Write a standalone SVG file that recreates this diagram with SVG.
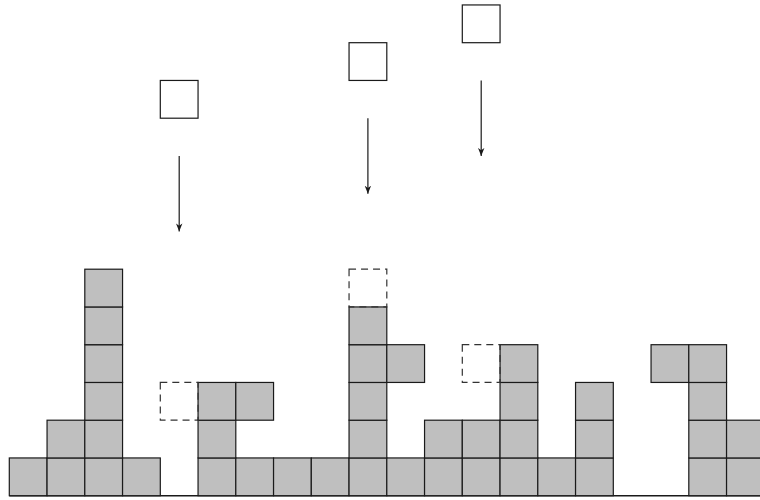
<svg xmlns="http://www.w3.org/2000/svg" xmlns:xlink="http://www.w3.org/1999/xlink" width="760" height="500" viewBox="0 0 760 500">
  <style>
    .cell { fill: #bfbfbf; stroke: #1a1a1a; stroke-width: 1.2; }
    .ghost { fill: none; stroke: #333333; stroke-width: 1.2; stroke-dasharray: 7 5; }
    .fall { fill: #ffffff; stroke: #1a1a1a; stroke-width: 1.2; }
    .arrow { stroke: #1a1a1a; stroke-width: 1.2; fill: none; marker-end: url(#head); }
    .ground { stroke: #1a1a1a; stroke-width: 1.4; }
  </style>
  <defs>
    <rect id="c" class="cell" width="37.75" height="37.75"/>
    <marker id="head" viewBox="0 0 10 10" refX="10" refY="5" markerWidth="8" markerHeight="8" markerUnits="userSpaceOnUse" orient="auto">
      <path d="M0,1 L10,5 L0,9 L3,5 z" fill="#1a1a1a"/>
    </marker>
  </defs>
  <rect width="760" height="500" fill="#ffffff"/>
  <line class="ground" x1="9.3" y1="495.7" x2="760" y2="495.7"/>
  <g id="stack">
    <!-- row 0 -->
    <use href="#c" x="9.3" y="457.95"/>
    <use href="#c" x="47.05" y="457.95"/>
    <use href="#c" x="84.8" y="457.95"/>
    <use href="#c" x="122.55" y="457.95"/>
    <use href="#c" x="198.05" y="457.95"/>
    <use href="#c" x="235.8" y="457.95"/>
    <use href="#c" x="273.55" y="457.95"/>
    <use href="#c" x="311.3" y="457.95"/>
    <use href="#c" x="349.05" y="457.95"/>
    <use href="#c" x="386.8" y="457.95"/>
    <use href="#c" x="424.55" y="457.95"/>
    <use href="#c" x="462.3" y="457.95"/>
    <use href="#c" x="500.05" y="457.95"/>
    <use href="#c" x="537.8" y="457.95"/>
    <use href="#c" x="575.55" y="457.95"/>
    <use href="#c" x="688.8" y="457.95"/>
    <use href="#c" x="726.55" y="457.95"/>
    <!-- row 1 -->
    <use href="#c" x="47.05" y="420.2"/>
    <use href="#c" x="84.8" y="420.2"/>
    <use href="#c" x="198.05" y="420.2"/>
    <use href="#c" x="349.05" y="420.2"/>
    <use href="#c" x="424.55" y="420.2"/>
    <use href="#c" x="462.3" y="420.2"/>
    <use href="#c" x="500.05" y="420.2"/>
    <use href="#c" x="575.55" y="420.2"/>
    <use href="#c" x="688.8" y="420.2"/>
    <use href="#c" x="726.55" y="420.2"/>
    <!-- row 2 -->
    <use href="#c" x="84.8" y="382.45"/>
    <use href="#c" x="198.05" y="382.45"/>
    <use href="#c" x="235.8" y="382.45"/>
    <use href="#c" x="349.05" y="382.45"/>
    <use href="#c" x="500.05" y="382.45"/>
    <use href="#c" x="575.55" y="382.45"/>
    <use href="#c" x="688.8" y="382.45"/>
    <!-- row 3 -->
    <use href="#c" x="84.8" y="344.7"/>
    <use href="#c" x="349.05" y="344.7"/>
    <use href="#c" x="386.8" y="344.7"/>
    <use href="#c" x="500.05" y="344.7"/>
    <use href="#c" x="651.05" y="344.7"/>
    <use href="#c" x="688.8" y="344.7"/>
    <!-- row 4 -->
    <use href="#c" x="84.8" y="306.95"/>
    <use href="#c" x="349.05" y="306.95"/>
    <!-- row 5 -->
    <use href="#c" x="84.8" y="269.2"/>
  </g>
  <g id="targets">
    <rect id="target1" class="ghost" x="160.3" y="382.45" width="37.75" height="37.75"/>
    <rect id="target2" class="ghost" x="349.05" y="269.2" width="37.75" height="37.75"/>
    <rect id="target3" class="ghost" x="462.3" y="344.7" width="37.75" height="37.75"/>
  </g>
  <g id="block1"><rect class="fall" x="160.3" y="80.45" width="37.75" height="37.75"/></g>
  <g id="block2"><rect class="fall" x="349.05" y="42.7" width="37.75" height="37.75"/></g>
  <g id="block3"><rect class="fall" x="462.3" y="4.95" width="37.75" height="37.75"/></g>
  <g id="connectors">
    <line class="arrow" x1="179.2" y1="155.95" x2="179.2" y2="231.45"/>
    <line class="arrow" x1="367.9" y1="118.2" x2="367.9" y2="193.7"/>
    <line class="arrow" x1="481.2" y1="80.45" x2="481.2" y2="155.95"/>
  </g>
</svg>
